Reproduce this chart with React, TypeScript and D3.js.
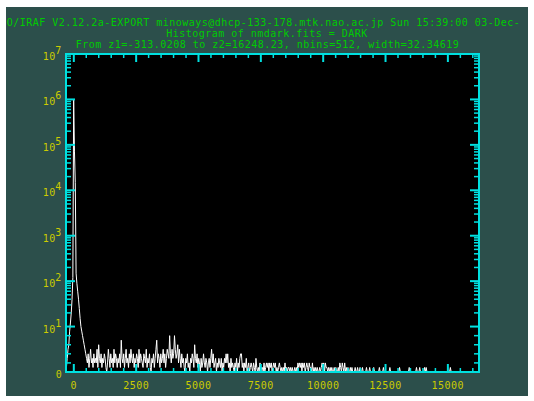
import React from 'react';
import * as d3 from 'd3';

// Histogram definition (from the plot header)
const Z1 = -313.0208;
const Z2 = 16248.23;
const NBINS = 512;
const BIN_WIDTH = 32.34619;

// Counts per bin
// bins 0-25: rise, spike and fall-off of the main peak
const peakCounts = [1, 3, 5, 6, 9, 12, 20, 40, 120, 1000000, 70000, 15000, 150, 90, 60, 40, 25, 15, 10, 9, 8, 7, 6, 5, 4, 3];
// bins 26-159 (about 500 .. 5000)
const noiseCounts = [
  2, 4, 1, 3, 5, 2, 3, 1, 4, 2,
  3, 2, 5, 1, 6, 3, 2, 4, 1, 3,
  2, 4, 3, 1, 0, 2, 5, 3, 1, 4,
  2, 3, 1, 5, 2, 4, 3, 1, 3, 2,
  4, 1, 7, 3, 2, 4, 1, 3, 5, 2,
  3, 1, 4, 2, 5, 3, 2, 4, 1, 3,
  2, 4, 3, 1, 5, 2, 4, 3, 2, 1,
  4, 3, 2, 5, 1, 3, 2, 4, 1, 0,
  3, 2, 4, 1, 3, 5, 7, 2, 4, 3,
  1, 4, 2, 3, 5, 2, 4, 1, 3, 5,
  4, 3, 8, 4, 2, 5, 3, 4, 8, 5,
  3, 4, 6, 2, 5, 3, 1, 4, 2, 3,
  1, 0, 3, 2, 4, 1, 2, 0, 3, 2,
  4, 3, 1, 6,
];
// bins 160-237 (about 5000 .. 7500)
const midCounts = [
  3, 2, 4, 1, 3, 2, 0, 3, 1, 2,
  4, 2, 1, 3, 2, 0, 2, 3, 1, 3,
  5, 2, 4, 1, 2, 3, 0, 2, 1, 3,
  2, 1, 3, 0, 2, 1, 3, 2, 4, 2,
  4, 1, 2, 0, 3, 1, 2, 1, 0, 2,
  1, 3, 0, 2, 1, 3, 4, 4, 1, 2,
  0, 2, 1, 3, 0, 1, 2, 0, 1, 2,
  1, 0, 2, 1, 0, 3, 1, 0,
];
// bins 238-367 (about 7500 .. 11600)
const lowCounts = [
  1, 0, 2, 0, 1, 1, 0, 2, 0, 1,
  2, 1, 2, 0, 2, 1, 2, 0, 1, 2,
  1, 2, 0, 1, 0, 1, 2, 1, 0, 1,
  0, 1, 0, 2, 0, 1, 0, 1, 1, 0,
  1, 0, 1, 0, 0, 1, 0, 1, 0, 2,
  1, 2, 1, 2, 0, 2, 1, 2, 0, 1,
  2, 1, 0, 2, 1, 1, 0, 2, 0, 1,
  0, 1, 0, 1, 0, 0, 1, 0, 1, 2,
  1, 2, 0, 2, 1, 1, 0, 1, 0, 1,
  0, 1, 0, 0, 1, 0, 1, 0, 0, 1,
  0, 2, 1, 0, 2, 1, 0, 2, 0, 1,
  0, 1, 0, 0, 1, 0, 1, 0, 0, 0,
  1, 0, 0, 1, 0, 0, 1, 0, 0, 1,
];
// bins 368-511: zero except these bins, which hold a single count
const TAIL_START = 368;
const tailOneBins = [372, 376, 381, 388, 393, 401, 413, 425, 434, 438, 444, 446, 476];

const xMajorTicks = [0, 2500, 5000, 7500, 10000, 12500, 15000];
const xMinorStep = 500;
const yDecades = [1, 2, 3, 4, 5, 6, 7];

const titleLine1 = 'O/IRAF V2.12.2a-EXPORT minoways@dhcp-133-178.mtk.nao.ac.jp Sun 15:39:00 03-Dec-';
const titleLine2 = 'Histogram of nmdark.fits = DARK';
const titleLine3 = 'From z1=-313.0208 to z2=16248.23, nbins=512, width=32.34619';

const BG = '#2c4f4b';
const CYAN = '#00e0e0';
const GREEN = '#00cc00';
const YELLOW = '#cccc00';
const FONT = '"DejaVu Sans Mono", monospace';

export default function App() {
  const W = 534, H = 401;
  const L = 66, R = 479, T = 54, B = 372;

  const tail = new Array(NBINS - TAIL_START).fill(0);
  tailOneBins.forEach((b) => { tail[b - TAIL_START] = 1; });
  const counts = [...peakCounts, ...noiseCounts, ...midCounts, ...lowCounts, ...tail];

  const x = d3.scaleLinear().domain([Z1, Z2]).range([L, R]);
  const fy = (v: number) => (v <= 10 ? v / 10 : Math.log10(v));
  const y = d3.scaleLinear().domain([0, 7]).range([B, T]);

  const pts: [number, number][] = counts.map((c, i) => [Z1 + (i + 0.5) * BIN_WIDTH, c]);
  const line = d3.line<[number, number]>()
    .x((d) => x(d[0]))
    .y((d) => y(fy(d[1])));

  const xMinor = d3.range(0, Z2, xMinorStep).filter((v) => !xMajorTicks.includes(v));

  // y ticks in plot units (decades)
  const yMajor = yDecades.slice(0, -1);
  const yMinor: number[] = [];
  [2, 4, 6, 8].forEach((v) => yMinor.push(fy(v)));
  for (let k = 1; k < 7; k++) {
    for (let m = 2; m <= 9; m++) yMinor.push(Math.log10(m * Math.pow(10, k)));
  }

  const txt = { fontFamily: FONT, fontSize: 10, letterSpacing: 0.48 } as const;

  return (
    <svg width={W} height={H} style={{ position: 'absolute', left: 0, top: 0, background: '#fff' }}>
      <defs>
        <clipPath id="plotclip"><rect x={L} y={T} width={R - L} height={B - T} /></clipPath>
        <clipPath id="panelclip"><rect x={6} y={7} width={522} height={389} /></clipPath>
      </defs>
      <rect x={6} y={7} width={522} height={389} fill={BG} />
      <g clipPath="url(#panelclip)">
        <text x={6.7} y={26} fill={GREEN} {...txt}>{titleLine1}</text>
        <text x={267} y={36.5} fill={GREEN} textAnchor="middle" {...txt}>{titleLine2}</text>
        <text x={267.5} y={47.5} fill={GREEN} textAnchor="middle" {...txt}>{titleLine3}</text>
      </g>

      <rect x={L} y={T} width={R - L} height={B - T} fill="#000" />

      <path d={line(pts) || ''} fill="none" stroke="#fff" strokeWidth={1} clipPath="url(#plotclip)" />

      {/* x ticks bottom and top */}
      <g stroke={CYAN}>
        {xMajorTicks.map((v) => (
          <g key={'xM' + v}>
            <line x1={x(v)} x2={x(v)} y1={B} y2={B - 8} strokeWidth={2} />
            <line x1={x(v)} x2={x(v)} y1={T} y2={T + 8} strokeWidth={2} />
          </g>
        ))}
        {xMinor.map((v) => (
          <g key={'xm' + v}>
            <line x1={x(v)} x2={x(v)} y1={B} y2={B - 4} strokeWidth={1.5} />
            <line x1={x(v)} x2={x(v)} y1={T} y2={T + 4} strokeWidth={1.5} />
          </g>
        ))}
        {yMajor.map((k) => (
          <g key={'yM' + k}>
            <line x1={L} x2={L + 9} y1={y(k)} y2={y(k)} strokeWidth={2} />
            <line x1={R} x2={R - 9} y1={y(k)} y2={y(k)} strokeWidth={2} />
          </g>
        ))}
        {yMinor.map((k, i) => (
          <g key={'ym' + i}>
            <line x1={L} x2={L + 5} y1={y(k)} y2={y(k)} strokeWidth={1.5} />
            <line x1={R} x2={R - 5} y1={y(k)} y2={y(k)} strokeWidth={1.5} />
          </g>
        ))}
        <rect x={L} y={T} width={R - L} height={B - T} fill="none" strokeWidth={2} />
      </g>

      {/* x labels */}
      {xMajorTicks.map((v) => (
        <text key={'xl' + v} x={x(v)} y={389} fill={YELLOW} textAnchor="middle" {...txt}>{String(v)}</text>
      ))}

      {/* y labels */}
      <text x={55.8} y={377.5} fill={YELLOW} {...txt}>0</text>
      {yDecades.map((k) => (
        <g key={'yl' + k}>
          <text x={42.7} y={y(k) + 6} fill={YELLOW} {...txt}>10</text>
          <text x={55.3} y={y(k)} fill={YELLOW} {...txt}>{String(k)}</text>
        </g>
      ))}
    </svg>
  );
}
